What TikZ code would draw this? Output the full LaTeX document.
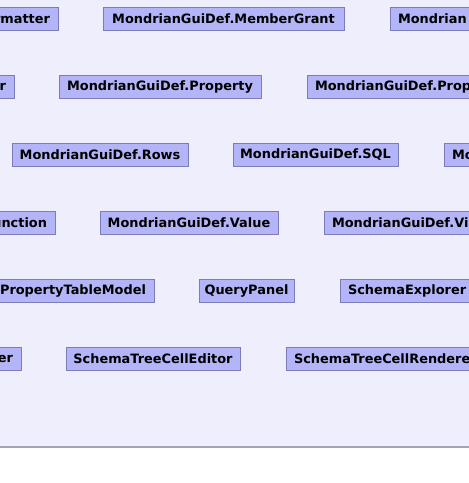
\documentclass[tikz,border=0pt]{standalone}
\usepackage{fontspec}
\setmainfont{DejaVu Sans}
\definecolor{bgcol}{RGB}{238,238,252}
\definecolor{boxcol}{RGB}{180,180,248}
\definecolor{bordercol}{RGB}{124,124,184}
\definecolor{sepcol}{RGB}{164,164,184}
\tikzset{
  cls/.style={draw=bordercol, fill=boxcol, line width=1pt, inner xsep=0pt, inner ysep=0pt,
    minimum height=23pt, text=black, font=\bfseries\fontsize{12.9}{15}\selectfont},
  lcut/.style={cls, anchor=east, text width=240pt, align=right, inner xsep=8pt},
  rcut/.style={cls, anchor=west, text width=240pt, align=left, inner xsep=8pt}
}
\begin{document}
\begin{tikzpicture}[x=1pt,y=1pt]
\useasboundingbox (0,0) rectangle (469,-483);
\clip (0,0) rectangle (469,-483);
\fill[white] (0,0) rectangle (469,-483);
\fill[bgcol] (0,0) rectangle (469,-447);
\draw[sepcol, line width=1.2pt] (0,-447) -- (469,-447);
% row 1
\node[lcut] (r1a) at (58.5,-19) {rmatter};
\node[cls, minimum width=241pt] (r1b) at (223.5,-19) {MondrianGuiDef.MemberGrant};
\node[rcut] (r1c) at (389.5,-19) {Mondrian};
% row 2
\node[lcut] (r2a) at (14.5,-87) {r};
\node[cls, minimum width=202pt] (r2b) at (160,-87) {MondrianGuiDef.Property};
\node[rcut] (r2c) at (306.5,-87) {MondrianGuiDef.Prop};
% row 3
\node[cls, minimum width=176pt] (r3a) at (100,-155) {MondrianGuiDef.Rows};
\node[cls, minimum width=165pt] (r3b) at (315.5,-155) {MondrianGuiDef.SQL};
\node[rcut] (r3c) at (443.5,-155) {Mo};
% row 4
\node[lcut] (r4a) at (55.5,-223) {unction};
\node[cls, minimum width=178pt] (r4b) at (189,-223) {MondrianGuiDef.Value};
\node[rcut] (r4c) at (323.5,-223) {MondrianGuiDef.Vi};
% row 5
\node[lcut] (r5a) at (154.5,-291) {PropertyTableModel};
\node[cls, minimum width=95pt] (r5b) at (246.5,-291) {QueryPanel};
\node[rcut] (r5c) at (339.5,-291) {SchemaExplorer};
% row 6
\node[lcut] (r6a) at (21.5,-359) {er};
\node[cls, minimum width=174pt] (r6b) at (153,-359) {SchemaTreeCellEditor};
\node[rcut] (r6c) at (285.5,-359) {SchemaTreeCellRendere};
\end{tikzpicture}
\end{document}
